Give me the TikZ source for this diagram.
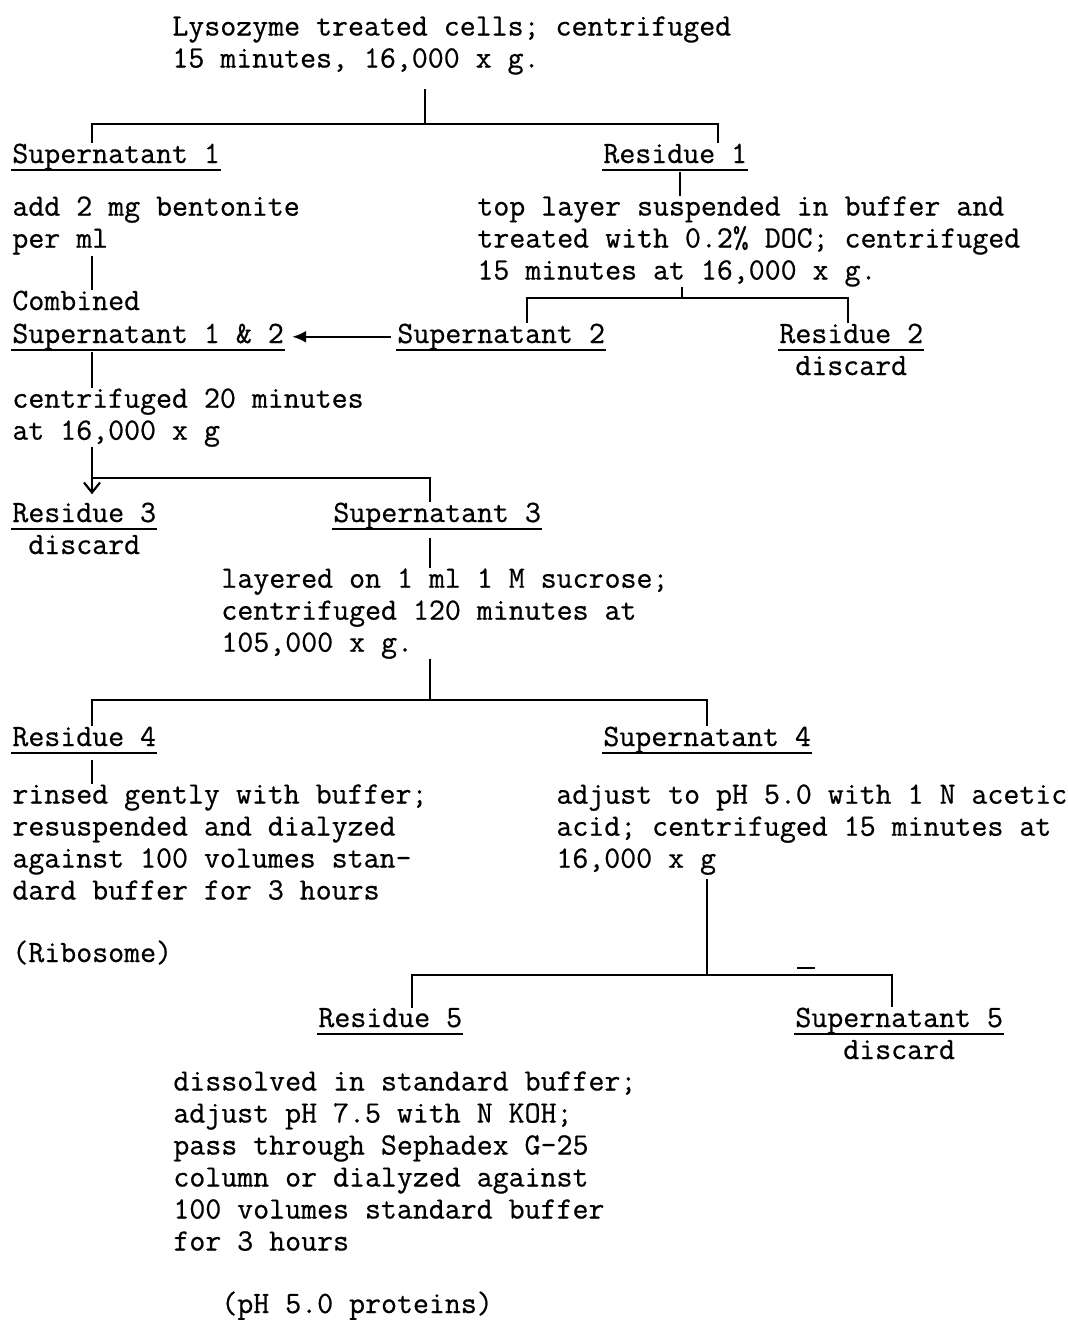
\documentclass[tikz,border=0pt]{standalone}
\usepackage{fontspec}
\usepackage{tikz}
\usetikzlibrary{calc, arrows.meta}
\newfontfamily\typewr{Latin Modern Mono}[FakeBold=0.6]

\begin{document}
\begin{tikzpicture}[x=0.5pt, y=-0.5pt,
  font=\fontsize{15.5}{16}\selectfont\typewr,
  frac/.style={inner sep=0pt, anchor=base west},
  note/.style={inner sep=0pt, anchor=north west, align=left},
  flow/.style={line width=1.1pt},
  rule/.style={line width=0.8pt}
]
  \useasboundingbox (0,0) rectangle (1068,1322);

  \node[note] (cells) at (172,16) {Lysozyme treated cells; centrifuged\\15 minutes, 16,000 x g.};
  \node[frac] (sup1) at (12,163) {Supernatant 1};
  \node[frac] (res1) at (603,163) {Residue 1};
  \node[note] (bent) at (12,196) {add 2 mg bentonite\\per ml};
  \node[note] (doc) at (477,196) {top layer suspended in buffer and\\treated with 0.2\% DOC; centrifuged\\15 minutes at 16,000 x g.};
  \node[frac] (comb) at (12,310) {Combined};
  \node[frac] (sup12) at (12,343) {Supernatant 1 \& 2};
  \node[frac] (sup2) at (397,343) {Supernatant 2};
  \node[frac] (res2) at (779,343) {Residue 2};
  \node[frac, anchor=base] (dis2) at ($(res2.base)+(0,32)$) {discard};
  \node[note] (spin20) at (12,388) {centrifuged 20 minutes\\at 16,000 x g};
  \node[frac] (res3) at (12,522) {Residue 3};
  \node[frac, anchor=base] (dis3) at ($(res3.base)+(0,32)$) {discard};
  \node[frac] (sup3) at (333,522) {Supernatant 3};
  \node[note] (sucr) at (221,568) {layered on 1 ml 1 M sucrose;\\centrifuged 120 minutes at\\105,000 x g.};
  \node[frac] (res4) at (12,746) {Residue 4};
  \node[frac] (sup4) at (603,746) {Supernatant 4};
  \node[note] (rinse) at (12,784) {rinsed gently with buffer;\\resuspended and dialyzed\\against 100 volumes stan-\\dard buffer for 3 hours};
  \node[frac] (ribo) at (12,962) {(Ribosome)};
  \node[note] (acid) at (556,784) {adjust to pH 5.0 with 1 N acetic\\acid; centrifuged 15 minutes at\\16,000 x g};
  \node[frac] (res5) at (318,1027) {Residue 5};
  \node[frac] (sup5) at (795,1027) {Supernatant 5};
  \node[frac, anchor=base] (dis5) at ($(sup5.base)+(0,32)$) {discard};
  \node[note] (sephx) at (173,1071) {dissolved in standard buffer;\\adjust pH 7.5 with N KOH;\\pass through Sephadex G-25\\column or dialyzed against\\100 volumes standard buffer\\for 3 hours};
  \node[frac] (prot) at (221,1313) {(pH 5.0 proteins)};

  \foreach \n in {sup1,res1,sup12,sup2,res2,res3,sup3,res4,sup4,res5,sup5}
    \draw[rule] ($(\n.base west)+(-1,7)$) -- ($(\n.base east)+(1,7)$);

  \coordinate (j1) at (425,124);
  \draw[flow] ([yshift=-7pt]cells.south -| j1) -- (j1);
  \draw[flow] (j1) -| ($(sup1.north west)+(80,0)$);
  \draw[flow] (j1) -| ($(res1.north west)+(115,0)$);
  \draw[flow] ($(res1.base west)+(77,9)$) coordinate (k1) -- (doc.north -| k1);
  \draw[flow] ($(bent.south west)+(80,1)$) coordinate (k2) -- (comb.north -| k2);

  \coordinate (j2) at (682,298);
  \draw[flow] ($(doc.south west)+(205,0)$) -- (j2);
  \draw[flow] (j2) -| ($(sup2.north west)+(130,0)$);
  \draw[flow] (j2) -| ($(res2.north west)+(69,0)$);
  \draw[flow, -{Latex[length=7pt, width=6pt]}] ([xshift=-3pt]sup2.west) -- ([xshift=4pt]sup12.east);
  \draw[flow] ($(sup12.base west)+(80,9)$) coordinate (k3) -- (spin20.north -| k3);

  \coordinate (j3) at (430,478);
  \draw[flow, -{Straight Barb[length=5pt, width=8pt]}] ($(spin20.south west)+(80,0)$) coordinate (k4) -- ([yshift=4pt]res3.north -| k4);
  \draw[flow] (k4 |- j3) -- (j3) -- (sup3.north -| j3);
  \draw[flow] ($(sup3.base west)+(97,16)$) coordinate (k5) -- (sucr.north -| k5);

  \coordinate (j4) at (430,700);
  \draw[flow] (sucr.south -| j4) -- (j4);
  \draw[flow] (j4) -| ($(res4.north west)+(80,0)$);
  \draw[flow] (j4) -| ($(sup4.north west)+(104,0)$);
  \draw[flow] ($(res4.base west)+(80,14)$) coordinate (k6) -- (rinse.north -| k6);

  \coordinate (j5) at (707,975);
  \draw[flow] ([yshift=-2pt]acid.south -| j5) -- (j5);
  \draw[flow] (j5) -| ($(res5.north west)+(94,0)$);
  \draw[flow] (j5) -| ($(sup5.north west)+(97,0)$);
  \draw[rule] (797,968) -- (815,968);
\end{tikzpicture}
\end{document}
